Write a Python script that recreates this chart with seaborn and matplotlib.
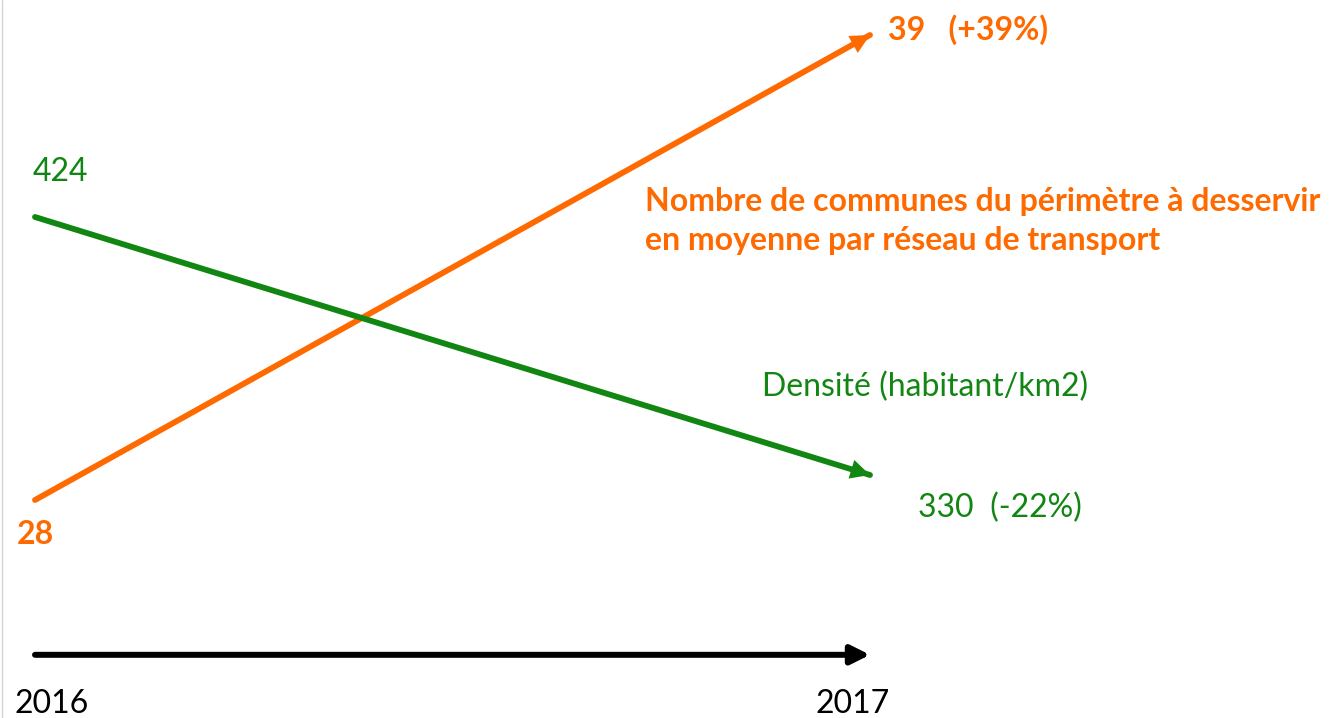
import matplotlib
matplotlib.use("Agg")
import matplotlib.pyplot as plt
from matplotlib.lines import Line2D
import seaborn as sns

# data
years = [2016, 2017]
communes = [28, 39]
densite = [424, 330]
communes_labels = ["28", "39   (+39%)"]
densite_labels = ["424", "330  (-22%)"]
communes_title = "Nombre de communes du périmètre à desservir\nen moyenne par réseau de transport"
densite_title = "Densité (habitant/km2)"

ORANGE = "#ff6a00"
GREEN = "#128612"
FS = 23

sns.set_style("white")
plt.rcParams["font.family"] = ["Lato", "DejaVu Sans"]

W, H = 1336, 718
fig = plt.figure(figsize=(W / 100, H / 100), dpi=100)
ax = fig.add_axes([0, 0, 1, 1])
ax2 = ax.twinx()

# pixel layout: 2016 at x=35, 2017 at x=870
px_year = 835
ax.set_xlim(2016 - 35 / px_year, 2016 + (W - 35) / px_year)

# orange scale: 28 at y=500, 39 at y=35 (from top)
ppu = (500 - 35) / 11
ax.set_ylim(28 - (H - 500) / ppu, 39 + 35 / ppu)
# green scale: 424 at y=217, 330 at y=475
ppu2 = (475 - 217) / 94
ax2.set_ylim(330 - (H - 475) / ppu2, 424 + 217 / ppu2)

sns.lineplot(x=years, y=communes, ax=ax, color=ORANGE, linewidth=4.2)
sns.lineplot(x=years, y=densite, ax=ax2, color=GREEN, linewidth=4.2)

head = dict(arrowstyle="-|>", mutation_scale=35, shrinkA=0, shrinkB=0, lw=0)
ax.annotate("", xy=(years[1], communes[1]), xytext=(years[0], communes[0]),
            arrowprops=dict(head, color=ORANGE))
ax2.annotate("", xy=(years[1], densite[1]), xytext=(years[0], densite[0]),
             arrowprops=dict(head, color=GREEN))

# time axis arrow
ax.annotate("", xy=(years[1], 0.088), xytext=(years[0], 0.088),
            xycoords=("data", "axes fraction"), textcoords=("data", "axes fraction"),
            arrowprops=dict(arrowstyle="-|>", mutation_scale=28, shrinkA=0, shrinkB=0,
                            lw=4.3, color="black"))
for yr, dx in zip(years, [-20, -55]):
    ax.annotate(str(yr), xy=(yr, 0.0), xycoords=("data", "axes fraction"),
                xytext=(dx, 14), textcoords="offset pixels",
                ha="left", va="center", fontsize=FS, color="black")

# value labels
ax.annotate(communes_labels[0], xy=(years[0], communes[0]), xytext=(-18, -35),
            textcoords="offset pixels", ha="left", va="center",
            fontsize=FS, fontweight="bold", color=ORANGE)
ax.annotate(communes_labels[1], xy=(years[1], communes[1]), xytext=(18, 5),
            textcoords="offset pixels", ha="left", va="center",
            fontsize=FS, fontweight="bold", color=ORANGE)
ax2.annotate(densite_labels[0], xy=(years[0], densite[0]), xytext=(-2, 45),
             textcoords="offset pixels", ha="left", va="center",
             fontsize=FS, color=GREEN)
ax2.annotate(densite_labels[1], xy=(years[1], densite[1]), xytext=(48, -33),
             textcoords="offset pixels", ha="left", va="center",
             fontsize=FS, color=GREEN)

# series titles
fig.text(645 / W, 1 - 221 / H, communes_title, ha="left", va="center",
         fontsize=FS, fontweight="bold", color=ORANGE, linespacing=1.45)
fig.text(762 / W, 1 - 387 / H, densite_title, ha="left", va="center",
         fontsize=FS, color=GREEN)

for a in (ax, ax2):
    a.set_axis_off()

fig.add_artist(Line2D([0.0012, 0.0012], [0, 1], transform=fig.transFigure,
                      color="#d4d4d4", lw=1))

fig.savefig("out.png", dpi=100)
